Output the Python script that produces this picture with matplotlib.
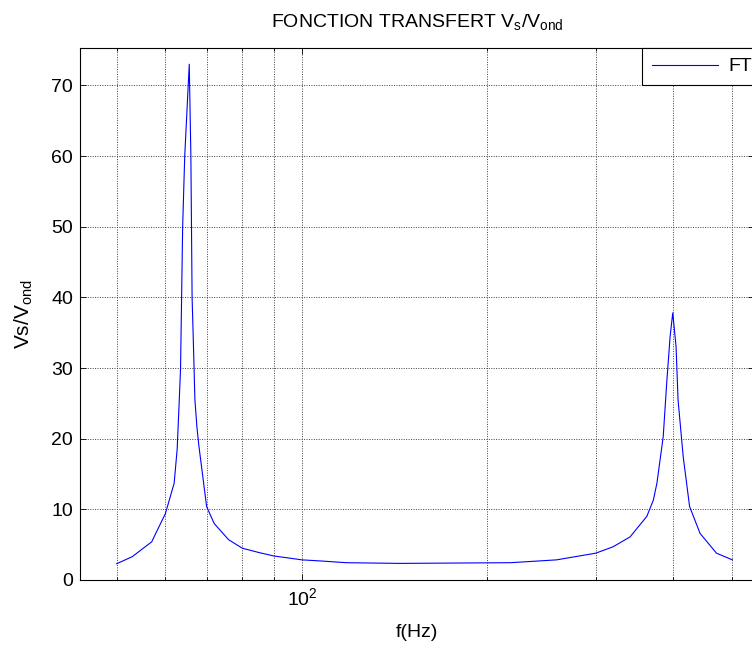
import matplotlib
matplotlib.use("Agg")
import matplotlib.pyplot as plt
from matplotlib.ticker import FixedLocator, NullFormatter

plt.rcParams['font.family'] = ['Liberation Sans', 'DejaVu Sans']
plt.rcParams['mathtext.fontset'] = 'custom'
plt.rcParams['mathtext.rm'] = 'Liberation Sans'
plt.rcParams['mathtext.default'] = 'regular'

# transfer function (frequency in Hz, |Vs/Vond|)
freq = [50, 53, 57, 60, 62, 62.7, 63.2, 63.5, 64, 64.5, 65.6, 66, 66.3, 66.6,
        67, 67.5, 68, 70, 72, 76, 80, 85, 90, 100, 107, 118, 144, 218, 243,
        259, 300, 320, 341, 363, 372, 377, 386, 391, 396, 400, 405, 408, 416,
        426, 443, 471, 500]
ft = [2.3, 3.3, 5.4, 9.4, 13.7, 18.5, 25.5, 30, 50, 60, 73, 60, 40, 34,
      25.5, 21.7, 19, 10.4, 8.0, 5.7, 4.5, 3.9, 3.4, 2.85, 2.7, 2.45, 2.35,
      2.45, 2.7, 2.85, 3.8, 4.7, 6.1, 9.0, 11.3, 13.7, 20.3, 27.8, 34.4,
      37.8, 33, 25.5, 17.4, 10.4, 6.6, 3.8, 2.85]

yticks = [0, 10, 20, 30, 40, 50, 60, 70]
xminor = [50, 60, 70, 80, 90, 200, 300, 400, 500]

W, H = 752, 648
fs = 14
fig = plt.figure(figsize=(W / 100, H / 100), dpi=100)
ax = fig.add_axes([80 / W, (H - 580) / H, 674 / W, 532 / H])

ax.semilogx(freq, ft, color='#0000ff', lw=0.8, label='FT')
ax.set_xlim(43.6, 542)
ax.set_ylim(0, 75.3)

ax.xaxis.set_major_locator(FixedLocator([100]))
ax.xaxis.set_minor_locator(FixedLocator(xminor))
ax.xaxis.set_minor_formatter(NullFormatter())
ax.set_yticks(yticks)

gs = dict(color='0.25', lw=0.7, linestyle=(0, (1, 1.5)))
ax.grid(True, which='major', axis='both', **gs)
ax.grid(True, which='minor', axis='x', **gs)

ax.tick_params(which='both', direction='in', top=True, right=True,
               labelsize=fs, width=0.6)
ax.tick_params(which='major', length=4, pad=5)
ax.tick_params(which='minor', length=2.5)
for s in ax.spines.values():
    s.set_linewidth(0.8)

ax.set_xlabel('f(Hz)', fontsize=fs, labelpad=11)
ax.set_ylabel('Vs/V$_{ond}$', fontsize=15, labelpad=12)
ax.set_title('FONCTION TRANSFERT V$_{s}$/V$_{ond}$', fontsize=fs, pad=15)

legend = ax.legend(loc='upper left', bbox_to_anchor=(642 / W, 1 - 48 / H),
                   bbox_transform=fig.transFigure, borderaxespad=0,
                   fancybox=False, framealpha=1, edgecolor='k',
                   handlelength=3.4, handletextpad=0.55, borderpad=0.5,
                   fontsize=fs)
legend.get_frame().set_linewidth(0.8)

fig.savefig('out.png', dpi=100)
plt.close()
